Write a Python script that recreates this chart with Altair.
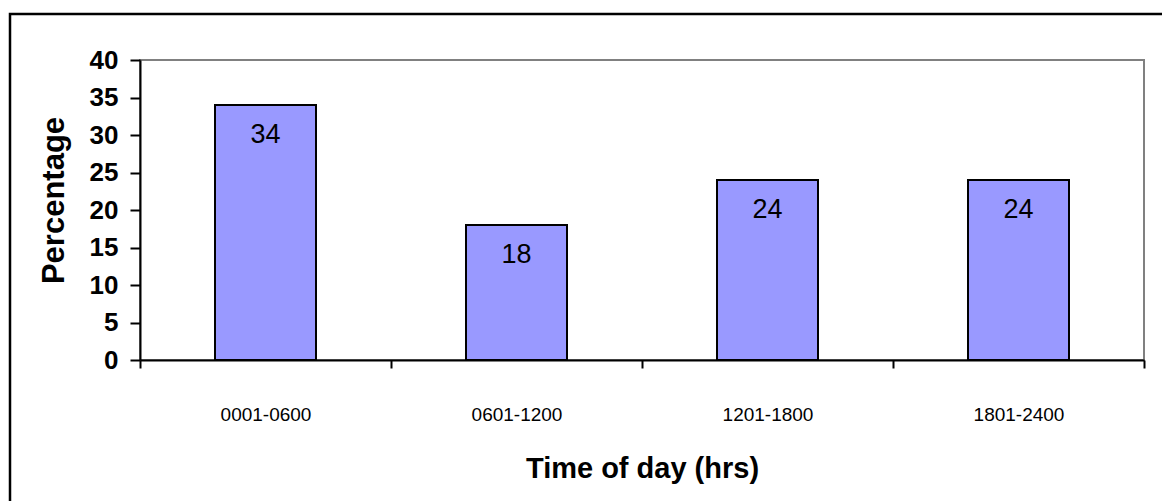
import altair as alt
import pandas as pd

# Share of events by time-of-day window
periods = ["0001-0600", "0601-1200", "1201-1800", "1801-2400"]
percentages = [34, 18, 24, 24]
y_ticks = [0, 5, 10, 15, 20, 25, 30, 35, 40]

df = pd.DataFrame({"period": periods, "pct": percentages})
FONT = "Arial, Liberation Sans, sans-serif"

x_enc = alt.X(
    "period:N",
    sort=periods,
    scale=alt.Scale(paddingInner=0, paddingOuter=0),
    axis=alt.Axis(
        title="Time of day (hrs)",
        labelAngle=0,
        tickBand="extent",
        tickSize=8,
        tickWidth=2,
        tickColor="black",
        domainColor="black",
        domainWidth=2,
        labelFont=FONT,
        labelFontSize=19,
        labelFontWeight="normal",
        labelColor="black",
        labelPadding=37,
        titleFont=FONT,
        titleFontSize=29,
        titleFontWeight="bold",
        titleColor="black",
        titleBaseline="alphabetic",
        titleY=117,
    ),
)

y_enc = alt.Y(
    "pct:Q",
    scale=alt.Scale(domain=[0, 40], nice=False),
    axis=alt.Axis(
        title="Percentage",
        values=y_ticks,
        labelOverlap=False,
        grid=False,
        tickSize=10,
        tickWidth=2,
        tickColor="black",
        domainColor="black",
        domainWidth=2,
        labelFont=FONT,
        labelFontSize=26,
        labelFontWeight="bold",
        labelColor="black",
        labelPadding=12,
        titleFont=FONT,
        titleFontSize=31,
        titleFontWeight="bold",
        titleColor="black",
        titleAngle=270,
        titleAlign="center",
        titleBaseline="alphabetic",
        titleX=-77,
        titleY=140,
    ),
)

base = alt.Chart(df).encode(x=x_enc, y=y_enc)

bars = base.mark_bar(size=101, color="#9999FF", stroke="black", strokeWidth=2)

labels = base.mark_text(
    baseline="alphabetic", dy=38, font=FONT, fontSize=27, color="black"
).encode(text="pct:Q")

# Outer frame around the whole figure
frame_df = pd.DataFrame({"k": [0]})
frame = alt.Chart(frame_df).mark_rect(
    fill=None, stroke="black", strokeWidth=2.5, clip=False
).encode(
    x=alt.value(-130), x2=alt.value(1040),
    y=alt.value(-46), y2=alt.value(460),
)

chart = alt.layer(bars, labels, frame).properties(
    width=1004,
    height=300,
    background="white",
    padding={"left": 140, "top": 60, "right": 18, "bottom": 141},
    autosize=alt.AutoSizeParams(type="none"),
).configure_view(
    stroke="#808080", strokeWidth=2
)

chart.save("out.html", embed_options={"renderer": "svg", "actions": False})
